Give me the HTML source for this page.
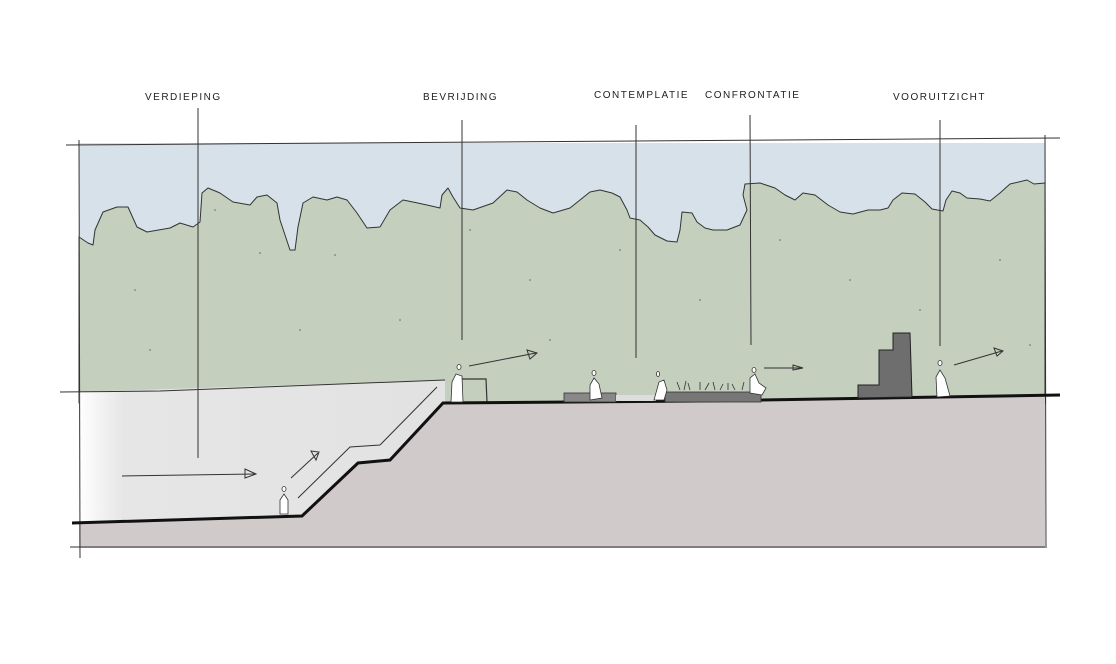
<!DOCTYPE html>
<html><head><meta charset="utf-8"><style>
html,body{margin:0;padding:0;background:#fff;}
svg{display:block}
text{font-family:"Liberation Sans",sans-serif;font-size:10px;letter-spacing:1.5px;fill:#222}
</style></head><body>
<svg width="1116" height="664" viewBox="0 0 1116 664" xmlns="http://www.w3.org/2000/svg">
<defs>
<linearGradient id="ex" x1="0" x2="1" y1="0" y2="0">
<stop offset="0" stop-color="#ffffff"/><stop offset="0.12" stop-color="#e6e6e6"/><stop offset="1" stop-color="#e2e2e2"/>
</linearGradient>
</defs>
<rect x="79" y="143" width="966" height="260" fill="#d7e1ea"/>
<path d="M79 237 L88 243 L93 245 L95 230 L103 212 L117 207 L128 207 L137 227 L147 232 L170 228 L180 223 L193 227 L200 222 L202 193 L208 188 L220 193 L233 202 L250 205 L257 197 L267 195 L277 203 L280 220 L290 250 L295 250 L298 227 L303 203 L313 197 L327 200 L337 197 L347 200 L357 213 L367 228 L380 227 L390 210 L403 200 L413 202 L427 205 L440 208 L442 195 L448 188 L453 197 L460 208 L473 210 L493 203 L507 190 L517 192 L527 200 L540 208 L553 213 L570 208 L580 200 L590 192 L600 190 L612 193 L620 197 L627 210 L630 218 L640 220 L648 227 L655 235 L667 241 L677 242 L680 230 L682 212 L692 213 L697 222 L705 228 L713 230 L727 230 L740 225 L747 210 L743 195 L745 184 L760 183 L775 188 L785 195 L795 200 L803 193 L815 195 L828 205 L840 212 L853 214 L868 210 L880 210 L888 208 L893 200 L902 193 L915 194 L925 202 L932 209 L943 211 L946 200 L952 191 L960 193 L967 198 L980 199 L990 201 L1000 193 L1010 184 L1027 180 L1034 184 L1045 183 L1045 403 L79 403 Z" fill="#c4cfbd" stroke="#333" stroke-width="1" stroke-linejoin="round"/>
<g fill="#666">
<circle cx="215" cy="210" r="0.8"/><circle cx="260" cy="253" r="0.8"/><circle cx="135" cy="290" r="0.8"/><circle cx="335" cy="255" r="0.8"/><circle cx="470" cy="230" r="0.8"/><circle cx="530" cy="280" r="0.8"/><circle cx="620" cy="250" r="0.8"/><circle cx="700" cy="300" r="0.8"/><circle cx="780" cy="240" r="0.8"/><circle cx="850" cy="280" r="0.8"/><circle cx="920" cy="310" r="0.8"/><circle cx="1000" cy="260" r="0.8"/><circle cx="400" cy="320" r="0.8"/><circle cx="150" cy="350" r="0.8"/><circle cx="300" cy="330" r="0.8"/><circle cx="550" cy="340" r="0.8"/><circle cx="1030" cy="345" r="0.8"/>
</g>
<path d="M79 392 L445 380 L445 403 L390 460 L358 463 L302 516 L79 523 Z" fill="url(#ex)"/>
<path d="M79 523 L302 516 L358 463 L390 460 L443 403 L700 401 L1045 395 L1045 548 L79 548 Z" fill="#d1cacb"/>
<g stroke="#333" stroke-width="1" fill="none">
<path d="M66 145 L1060 138"/>
<path d="M79 140 L80 558"/>
<path d="M1045 135 L1046 548"/>
<path d="M70 547 L1045 547"/>
<path d="M60 392 L160 391 L445 380"/>
<path d="M198 108 L198 458"/>
<path d="M462 120 L462 340"/>
<path d="M636 125 L636 358"/>
<path d="M750 115 L751 345"/>
<path d="M940 120 L940 346"/>
<path d="M298 498 L350 447 L380 445 L437 387"/>
<path d="M122 476 L255 474"/><path d="M245 469 L256 474 L245 478 Z"/>
<path d="M291 478 L318 453"/><path d="M311 451 L319 452 L316 460 Z"/>
<path d="M469 366 L536 353"/><path d="M527 350 L537 353 L530 359 Z"/>
<path d="M764 368 L803 368"/><path d="M793 365 L803 368 L793 370 Z"/>
<path d="M954 365 L1002 351"/><path d="M994 348 L1003 351 L997 356 Z"/>
<path d="M462 379 L486 379 L487 402" stroke-width="1.2"/>
</g>
<path d="M72 523 L302 516 L358 463 L390 460 L443 403 L700 401 L1060 395" stroke="#111" stroke-width="3" fill="none"/>
<rect x="564" y="393" width="52" height="9" fill="#888" stroke="#333" stroke-width="0.8"/>
<rect x="616" y="395" width="40" height="6" fill="#ddd"/>
<rect x="665" y="392" width="96" height="10" fill="#777" stroke="#333" stroke-width="0.8"/>
<g stroke="#333" stroke-width="0.8" fill="none">
<path d="M680 390 l-3 -8 M684 390 l2 -9 M690 390 l-2 -7 M700 390 l0 -8 M705 390 l4 -7 M715 390 l-2 -8 M720 390 l3 -6 M728 390 l0 -7 M735 390 l-3 -6 M742 390 l2 -8"/>
</g>
<path d="M858 385 L879 385 L879 350 L893 350 L893 333 L910 333 L912 397 L858 398 Z" fill="#6e6e6e" stroke="#222" stroke-width="1"/>
<g fill="#fff" stroke="#333" stroke-width="0.8">
<ellipse cx="284" cy="489" rx="2" ry="2.5"/><path d="M280 514 L280 500 L284 494 L288 500 L288 514 Z"/>
<ellipse cx="459" cy="367" rx="2" ry="2.5"/><path d="M451 402 L452 382 L456 374 L462 376 L463 402 Z"/>
<ellipse cx="594" cy="373" rx="2" ry="2.5"/><path d="M590 400 L590 385 L594 378 L599 384 L602 398 Z"/>
<ellipse cx="658" cy="374" rx="1.5" ry="2.5"/><path d="M654 400 L659 382 L664 380 L667 390 L664 400 Z"/>
<ellipse cx="754" cy="370" rx="2" ry="2.5"/><path d="M750 393 L750 378 L755 374 L759 383 L766 388 L762 395 Z"/>
<ellipse cx="940" cy="363" rx="2" ry="2.5"/><path d="M937 397 L936 377 L940 370 L945 378 L950 396 Z"/>
</g>
<text x="145" y="100">VERDIEPING</text>
<text x="423" y="100">BEVRIJDING</text>
<text x="594" y="98">CONTEMPLATIE</text>
<text x="705" y="98">CONFRONTATIE</text>
<text x="893" y="100">VOORUITZICHT</text>
</svg>
</body></html>
